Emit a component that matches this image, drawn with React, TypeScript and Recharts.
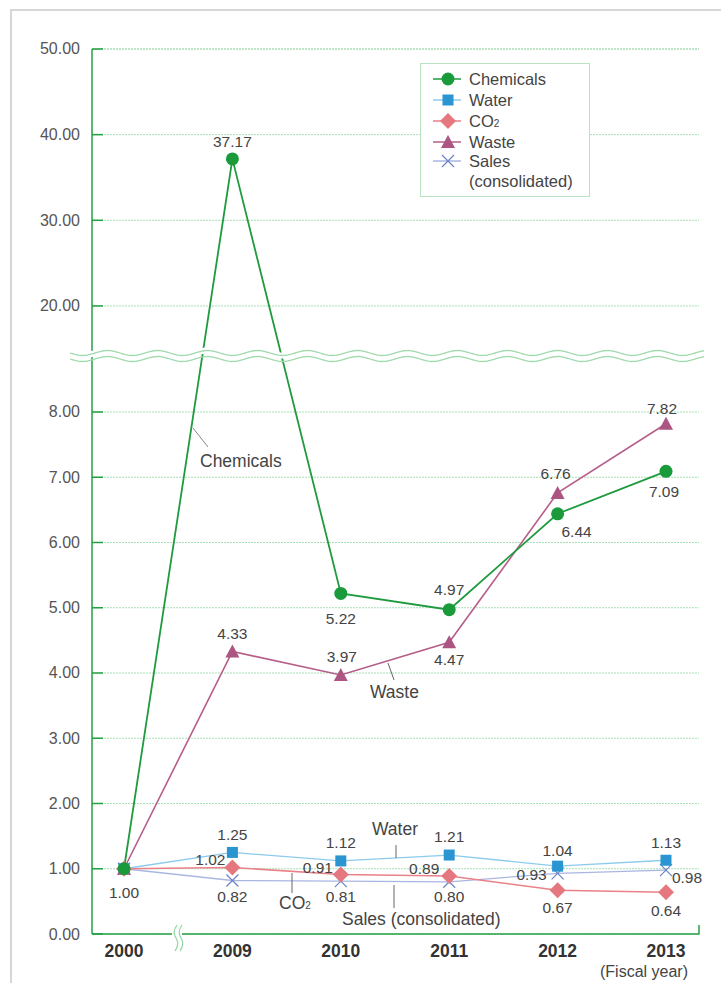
import React from 'react';
import { LineChart, Line, XAxis, YAxis, CartesianGrid, LabelList, Legend } from 'recharts';

if (typeof document !== 'undefined') document.body.style.margin = '0';

const years = ['2000', '2009', '2010', '2011', '2012', '2013'];
const chemicals = [1.0, 37.17, 5.22, 4.97, 6.44, 7.09];
const water = [1.0, 1.25, 1.12, 1.21, 1.04, 1.13];
const co2 = [1.0, 1.02, 0.91, 0.89, 0.67, 0.64];
const waste = [1.0, 4.33, 3.97, 4.47, 6.76, 7.82];
const sales = [1.0, 0.82, 0.81, 0.8, 0.93, 0.98];
const yTicks = [0, 1, 2, 3, 4, 5, 6, 7, 8, 20, 30, 40, 50];

// broken axis: 0-8 normal, 20-50 compressed above the break
const BREAK = 8.83;
const toDisplay = (v: number) => (v <= BREAK ? v : 9.625 + (v - 20) * 0.13127);
const fromDisplay = (d: number) => (d <= BREAK ? d : 20 + (d - 9.625) / 0.13127);

const data = years.map((year, i) => ({
  year,
  chemicals: toDisplay(chemicals[i]),
  water: toDisplay(water[i]),
  co2: toDisplay(co2[i]),
  waste: toDisplay(waste[i]),
  sales: toDisplay(sales[i]),
}));

const FONT = '"Liberation Sans", Arial, Helvetica, sans-serif';
const GREEN = '#23a043';
const TXT = 17.5;

const colors = {
  chemicals: { line: '#1e9b3e', mark: '#1a9a3b' },
  water: { line: '#8ccbee', mark: '#2b95d1' },
  co2: { line: '#ea8088', mark: '#e5787f' },
  waste: { line: '#b65e8a', mark: '#ad5582' },
  sales: { line: '#aab6e2', mark: '#6d82c8' },
};

// label offsets (dx, dy) from each point; null = no label
const labelPos: Record<string, ([number, number] | null)[]> = {
  chemicals: [[0, 24], [0, -17], [0, 25], [0, -20], [19, 18], [-2, 20]],
  waste: [null, [0, -18], [1, -18], [0, 17], [-2, -19], [-4, -15]],
  water: [null, [0, -18], [0, -18], [0, -19], [0, -16], [0, -18]],
  co2: [null, [-22, -8], [-23, -7], [-25, -7], [0, 17], [0, 18]],
  sales: [null, [0, 16], [0, 15], [0, 15], [-26, 1], [21, 7]],
};

const realValues: Record<string, number[]> = { chemicals, water, co2, waste, sales };

const makeLabel = (key: string) => (props: any) => {
  const { x, y, index } = props;
  const p = labelPos[key][index];
  if (!p) return null;
  return (
    <text x={x + p[0]} y={y + p[1]} dy={5.5} textAnchor="middle" fontSize={15.5} fill="#444" fontFamily={FONT}>
      {realValues[key][index].toFixed(2)}
    </text>
  );
};

const CircleDot = (props: any) => {
  const { cx, cy } = props;
  return <circle cx={cx} cy={cy} r={6.5} fill={colors.chemicals.mark} />;
};
const SquareDot = (props: any) => {
  const { cx, cy } = props;
  return <rect x={cx - 5.5} y={cy - 5.5} width={11} height={11} fill={colors.water.mark} />;
};
const DiamondDot = (props: any) => {
  const { cx, cy } = props;
  return <path d={`M${cx},${cy - 8}L${cx + 8},${cy}L${cx},${cy + 8}L${cx - 8},${cy}Z`} fill={colors.co2.mark} />;
};
const TriangleDot = (props: any) => {
  const { cx, cy } = props;
  return <path d={`M${cx},${cy - 7}L${cx + 7},${cy + 6}L${cx - 7},${cy + 6}Z`} fill={colors.waste.mark} />;
};
const CrossDot = (props: any) => {
  const { cx, cy } = props;
  return (
    <path d={`M${cx - 6},${cy - 6}L${cx + 6},${cy + 6}M${cx + 6},${cy - 6}L${cx - 6},${cy + 6}`} stroke={colors.sales.mark} strokeWidth={1.2} fill="none" />
  );
};

const YTick = (props: any) => {
  const { x, y, payload } = props;
  const real = Math.round(fromDisplay(payload.value));
  return (
    <g>
      <line x1={x + 12} x2={x + 23} y1={y} y2={y} stroke={GREEN} strokeWidth={1.5} />
      <text x={x} y={y} dy={5.5} textAnchor="end" fontSize={16} fill="#555" fontFamily={FONT}>
        {real.toFixed(2)}
      </text>
    </g>
  );
};

const legendItems = [
  { name: 'Chemicals', c: colors.chemicals, Dot: CircleDot },
  { name: 'Water', c: colors.water, Dot: SquareDot },
  { name: 'CO2', c: colors.co2, Dot: DiamondDot },
  { name: 'Waste', c: colors.waste, Dot: TriangleDot },
  { name: 'Sales', c: colors.sales, Dot: CrossDot },
];
const legendRows = [15, 36, 57, 78, 97];
const LEG_TXT = 16.5;

const renderLegend = () => (
  <div
    style={{
      width: 170,
      height: 134,
      border: '1.5px solid #b8e4c2',
      background: '#fff',
      boxSizing: 'border-box',
    }}
  >
    <svg width={168} height={131}>
      {legendItems.map((it, i) => {
        const cy = legendRows[i];
        const small = it.name === 'Sales';
        return (
          <g key={it.name}>
            <line x1={12} x2={40} y1={cy} y2={cy} stroke={it.c.line} strokeWidth={1.5} />
            <it.Dot cx={27} cy={cy} />
            <text x={48} y={cy} dy={6} fontSize={LEG_TXT} fill="#444" fontFamily={FONT}>
              {it.name === 'CO2' ? (
                <>
                  CO<tspan fontSize={10}>2</tspan>
                </>
              ) : (
                it.name
              )}
            </text>
            {small && (
              <text x={48} y={cy + 20} dy={6} fontSize={LEG_TXT} fill="#444" fontFamily={FONT}>
                (consolidated)
              </text>
            )}
          </g>
        );
      })}
    </svg>
  </div>
);

const wavePath = (y0: number) => {
  let d = `M70,${y0}`;
  for (let x = 70; x < 706; x += 2) {
    d += `L${x},${(y0 + 2.5 * Math.sin(((x - 70) / 50) * Math.PI * 2)).toFixed(2)}`;
  }
  return d;
};

const Overlay = () => (
  <svg width={721} height={983} style={{ position: 'absolute', left: 0, top: 0, pointerEvents: 'none' }} fontFamily={FONT}>
    {/* axis break on y */}
    <path d={wavePath(353)} stroke="#fff" strokeWidth={6} fill="none" />
    <path d={wavePath(353)} stroke="#9fd9ad" strokeWidth={1.3} fill="none" />
    <path d={wavePath(359)} stroke="#9fd9ad" strokeWidth={1.3} fill="none" />
    {/* axis break on x */}
    <rect x={172} y={930} width={10} height={8} fill="#fff" />
    <path d="M177,925 Q172,932 176,938 Q180,944 175,951" stroke="#8fd6a0" strokeWidth={1.2} fill="none" />
    <path d="M182,925 Q177,932 181,938 Q185,944 180,951" stroke="#8fd6a0" strokeWidth={1.2} fill="none" />
    {/* right end tick */}
    <line x1={699} x2={699} y1={925} y2={934.5} stroke={GREEN} strokeWidth={1.5} />
    {/* annotations */}
    <line x1={193} y1={428} x2={208} y2={447} stroke="#888" strokeWidth={1} />
    <text x={200} y={467} fontSize={TXT} fill="#444">Chemicals</text>
    <line x1={388} y1={663} x2={394} y2={680} stroke="#666" strokeWidth={1} />
    <text x={370} y={698} fontSize={TXT} fill="#444">Waste</text>
    <line x1={396} y1={845} x2={396} y2={858} stroke="#666" strokeWidth={1} />
    <text x={372} y={835} fontSize={TXT} fill="#444">Water</text>
    <line x1={292} y1={873} x2={292} y2={893} stroke="#666" strokeWidth={1} />
    <text x={279} y={909} fontSize={TXT} fill="#444">
      CO<tspan fontSize={10}>2</tspan>
    </text>
    <line x1={394} y1={885} x2={394} y2={908} stroke="#666" strokeWidth={1} />
    <text x={342} y={925} fontSize={TXT} fill="#444">Sales (consolidated)</text>
    <text x={644} y={977} fontSize={16} fill="#444" textAnchor="middle">(Fiscal year)</text>
  </svg>
);

export default function App() {
  return (
    <div style={{ position: 'relative', width: 721, height: 983, background: '#fff', overflow: 'hidden' }}>
      <div style={{ position: 'absolute', left: 10, top: 9, right: 0, bottom: 0, borderTop: '2px solid #d6d6d6', borderLeft: '2px solid #d6d6d6' }} />
      <LineChart width={721} height={983} data={data} margin={{ top: 49, right: 22, bottom: 0, left: 0 }}>
        <CartesianGrid vertical={false} stroke="#a6dfb4" strokeDasharray="2 1" />
        <XAxis
          dataKey="year"
          height={49}
          padding={{ left: 32, right: 33 }}
          tickSize={0}
          tickMargin={11}
          axisLine={{ stroke: GREEN, strokeWidth: 1.5 }}
          tick={{ fontSize: 17.5, fontWeight: 'bold', fill: '#333', fontFamily: FONT }}
        />
        <YAxis
          type="number"
          width={92}
          domain={[0, 13.563]}
          ticks={yTicks.map(toDisplay)}
          interval={0}
          tickSize={0}
          tickMargin={12}
          axisLine={{ stroke: GREEN, strokeWidth: 1.5 }}
          tick={<YTick />}
        />
        <Legend
          layout="vertical"
          align="center"
          verticalAlign="middle"
          content={renderLegend}
          wrapperStyle={{ position: 'absolute', left: 420, top: 63, width: 170, height: 134 }}
        />
        <Line dataKey="sales" stroke={colors.sales.line} strokeWidth={1.3} dot={<CrossDot />} isAnimationActive={false}>
          <LabelList dataKey="sales" content={makeLabel('sales')} />
        </Line>
        <Line dataKey="co2" stroke={colors.co2.line} strokeWidth={1.5} dot={<DiamondDot />} isAnimationActive={false}>
          <LabelList dataKey="co2" content={makeLabel('co2')} />
        </Line>
        <Line dataKey="water" stroke={colors.water.line} strokeWidth={1.3} dot={<SquareDot />} isAnimationActive={false}>
          <LabelList dataKey="water" content={makeLabel('water')} />
        </Line>
        <Line dataKey="waste" stroke={colors.waste.line} strokeWidth={1.6} dot={<TriangleDot />} isAnimationActive={false}>
          <LabelList dataKey="waste" content={makeLabel('waste')} />
        </Line>
        <Line dataKey="chemicals" stroke={colors.chemicals.line} strokeWidth={1.8} dot={<CircleDot />} isAnimationActive={false}>
          <LabelList dataKey="chemicals" content={makeLabel('chemicals')} />
        </Line>
      </LineChart>
      <Overlay />
    </div>
  );
}
